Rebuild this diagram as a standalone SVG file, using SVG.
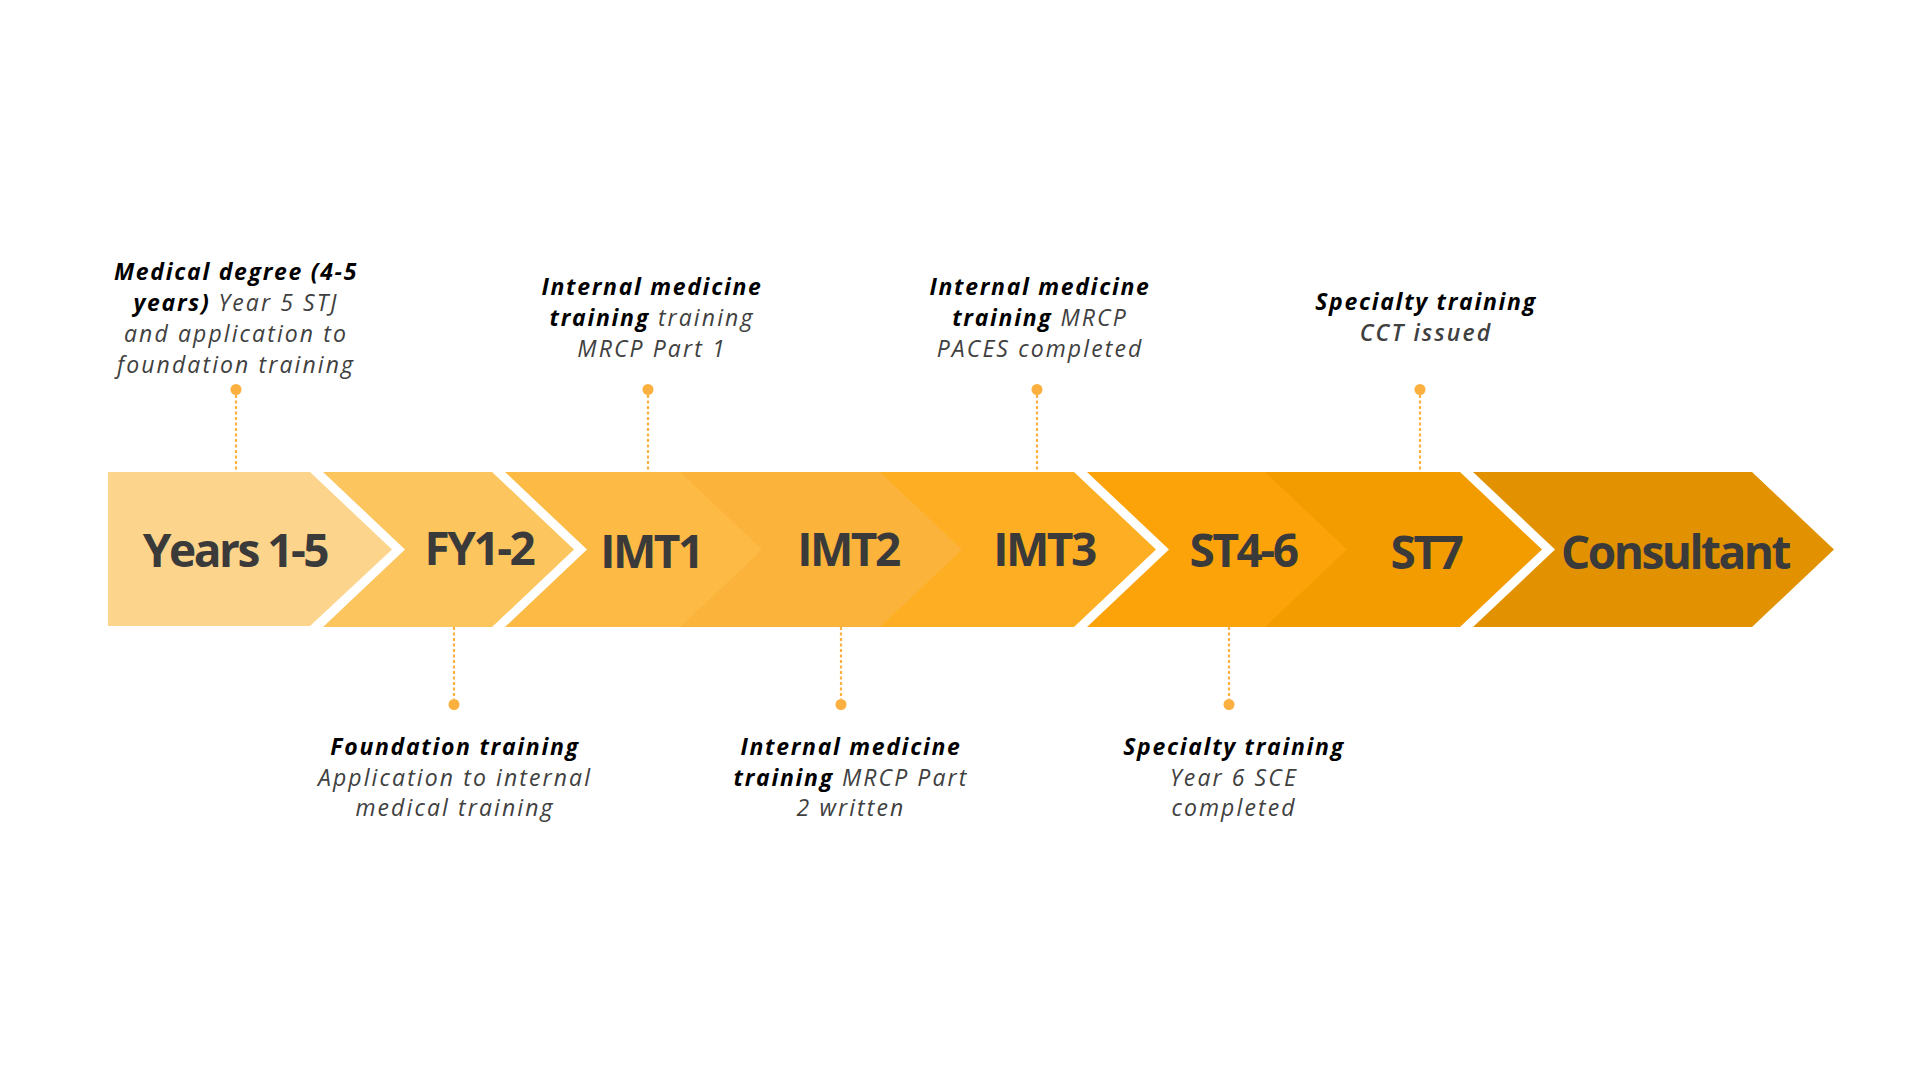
<svg xmlns="http://www.w3.org/2000/svg" width="1920" height="1080" viewBox="0 0 1920 1080">
<style>
.lbl{font-family:"Open Sans","Liberation Sans",sans-serif;font-weight:700;font-size:46px;letter-spacing:-2.5px;fill:#3a3a3a;text-anchor:middle}
.ann{font-family:"Open Sans","Liberation Sans",sans-serif;font-style:italic;font-size:23px;letter-spacing:2.1px;fill:#404040;text-anchor:middle}
.b{font-weight:700;fill:#000;letter-spacing:1.7px}
.sb{font-weight:600}
.conn line{stroke:#FBB040;stroke-width:2.2;stroke-dasharray:3 2.5}
.conn circle{fill:#FBB040}
</style>
<rect width="1920" height="1080" fill="#fff"/>
<g id="chevrons">
<g id="node-years">
<polygon points="108,472 310,472 392,549.5 310,626 108,626" fill="#FDD48B"/>
<text class="lbl" x="235" y="567">Years 1-5</text>
</g>
<g id="node-fy">
<polygon points="323,472 492,472 574,549.5 492,627 323,627 405,549.5" fill="#FDC55D"/>
<text class="lbl" x="479" y="565">FY1-2</text>
</g>
<g id="node-imt1">
<polygon points="505,472 681,472 763,549.5 681,627 505,627 587,549.5" fill="#FDBB46"/>
<text class="lbl" x="651" y="568">IMT1</text>
</g>
<g id="node-imt2">
<polygon points="680,472 881,472 963,549.5 881,627 680,627 762,549.5" fill="#FBB33B"/>
<text class="lbl" x="848" y="566">IMT2</text>
</g>
<g id="node-imt3">
<polygon points="880,472 1074,472 1156,549.5 1074,627 880,627 962,549.5" fill="#FDAE22"/>
<text class="lbl" x="1044" y="566">IMT3</text>
</g>
<g id="node-st46">
<polygon points="1087,472 1266,472 1348,549.5 1266,627 1087,627 1169,549.5" fill="#FCA309"/>
<text class="lbl" x="1243" y="567">ST4-6</text>
</g>
<g id="node-st7">
<polygon points="1265,472 1460,472 1542,549.5 1460,627 1265,627 1347,549.5" fill="#F29C00"/>
<text class="lbl" x="1426" y="569">ST7</text>
</g>
<g id="node-consultant">
<polygon points="1473,472 1752,472 1834,549.5 1752,627 1473,627 1555,549.5" fill="#E29200"/>
<text class="lbl" x="1675" y="569">Consultant</text>
</g>
</g>
<g id="connectors" class="conn">
<line x1="236" y1="395" x2="236" y2="472"/><circle cx="236" cy="389.5" r="5.5"/>
<line x1="648" y1="395" x2="648" y2="472"/><circle cx="648" cy="389.5" r="5.5"/>
<line x1="1037" y1="395" x2="1037" y2="472"/><circle cx="1037" cy="389.5" r="5.5"/>
<line x1="1420" y1="395" x2="1420" y2="472"/><circle cx="1420" cy="389.5" r="5.5"/>
<line x1="454" y1="627" x2="454" y2="699"/><circle cx="454" cy="704.5" r="5.5"/>
<line x1="841" y1="627" x2="841" y2="699"/><circle cx="841" cy="704.5" r="5.5"/>
<line x1="1229" y1="627" x2="1229" y2="699"/><circle cx="1229" cy="704.5" r="5.5"/>
</g>
<g id="ann-medical" class="ann">
<text x="236" y="280"><tspan class="b">Medical degree (4-5</tspan></text>
<text x="236" y="311"><tspan class="b">years)</tspan> Year 5 STJ</text>
<text x="236" y="342">and application to</text>
<text x="236" y="373">foundation training</text>
</g>
<g id="ann-imt1" class="ann">
<text x="652" y="295"><tspan class="b">Internal medicine</tspan></text>
<text x="652" y="326"><tspan class="b">training</tspan> training</text>
<text x="652" y="357">MRCP Part 1</text>
</g>
<g id="ann-imt3" class="ann">
<text x="1040" y="295"><tspan class="b">Internal medicine</tspan></text>
<text x="1040" y="326"><tspan class="b">training</tspan> MRCP</text>
<text x="1040" y="357">PACES completed</text>
</g>
<g id="ann-st7" class="ann">
<text x="1426" y="310"><tspan class="b">Specialty training</tspan></text>
<text x="1426" y="341" class="sb">CCT issued</text>
</g>
<g id="ann-fy" class="ann">
<text x="455" y="755"><tspan class="b">Foundation training</tspan></text>
<text x="455" y="786">Application to internal</text>
<text x="455" y="816">medical training</text>
</g>
<g id="ann-imt2" class="ann">
<text x="851" y="755"><tspan class="b">Internal medicine</tspan></text>
<text x="851" y="786"><tspan class="b">training</tspan> MRCP Part</text>
<text x="851" y="816">2 written</text>
</g>
<g id="ann-st46" class="ann">
<text x="1234" y="755"><tspan class="b">Specialty training</tspan></text>
<text x="1234" y="786">Year 6 SCE</text>
<text x="1234" y="816">completed</text>
</g>
</svg>
